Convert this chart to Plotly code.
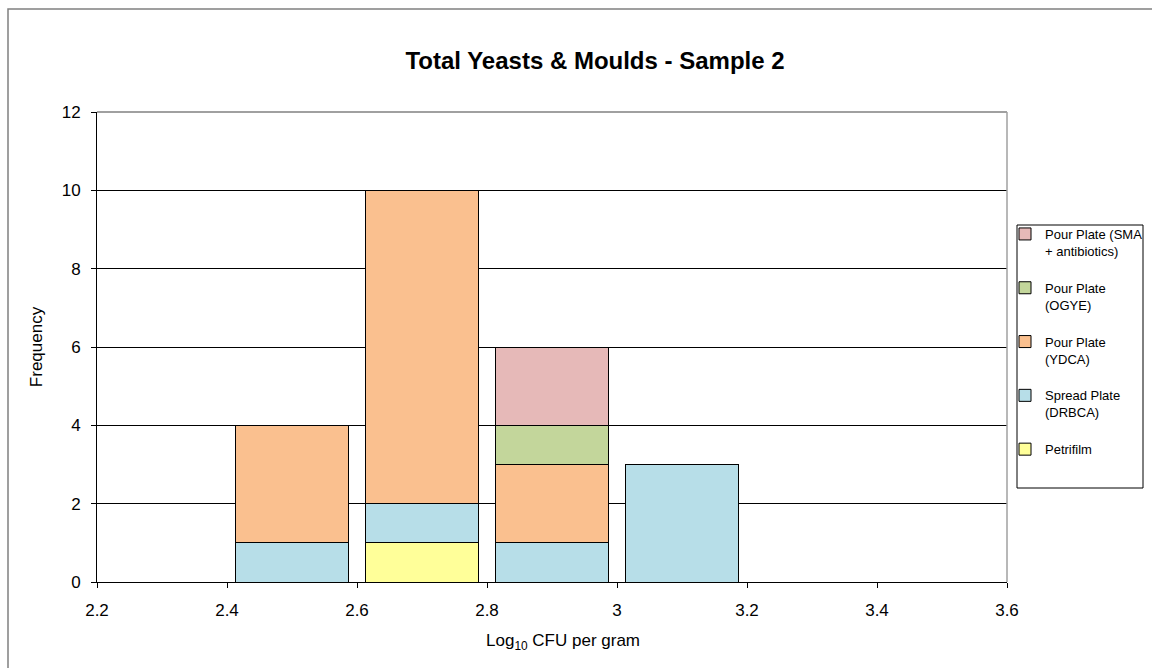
import plotly.graph_objects as go

# Data
bin_centers = [2.5, 2.7, 2.9, 3.1]
petrifilm = [None, 1, None, None]
spread_drbca = [1, 1, 1, 3]
pour_ydca = [3, 8, 2, None]
pour_ogye = [None, None, 1, None]
pour_sma = [None, None, 2, None]

x_tickvals = [2.2, 2.4, 2.6, 2.8, 3.0, 3.2, 3.4, 3.6]
x_ticktext = ["2.2", "2.4", "2.6", "2.8", "3", "3.2", "3.4", "3.6"]
y_tickvals = [0, 2, 4, 6, 8, 10, 12]

series = [
    ("Petrifilm", petrifilm, "#FFFF99"),
    ("Spread Plate<br>(DRBCA)", spread_drbca, "#B7DEE8"),
    ("Pour Plate<br>(YDCA)", pour_ydca, "#FAC08F"),
    ("Pour Plate<br>(OGYE)", pour_ogye, "#C3D69B"),
    ("Pour Plate (SMA<br>+ antibiotics)", pour_sma, "#E6B9B8"),
]

FONT = "Liberation Sans, Arial, sans-serif"

fig = go.Figure()
n = len(series)
for i, (name, vals, col) in enumerate(series):
    fig.add_trace(go.Bar(
        x=bin_centers, y=vals, name=name, width=0.175,
        marker=dict(color=col, line=dict(color="black", width=1)),
        legendgroup=f"g{i}", legendrank=n - i,
    ))

W, H = 1152, 668
L, R, T, B = 97, 145, 112, 86
pw, ph = W - L - R, H - T - B

def px(xp):
    return (xp - L) / pw

def py(yp):
    return (H - B - yp) / ph

fig.update_layout(
    width=W, height=H,
    margin=dict(l=L, r=R, t=T, b=B, autoexpand=False),
    barmode="stack",
    paper_bgcolor="white", plot_bgcolor="white",
    font=dict(family=FONT, size=17, color="black"),
    title=dict(text="<b>Total Yeasts & Moulds - Sample 2</b>",
               x=px(567), xanchor="center", y=1 - 61 / H, yanchor="middle",
               font=dict(size=24, family=FONT)),
    xaxis=dict(range=[2.2, 3.6], tickvals=x_tickvals, ticktext=x_ticktext,
               showgrid=False, zeroline=False, showline=True, linecolor="black",
               linewidth=1, ticks="outside", ticklen=5, tickcolor="black",
               tickfont=dict(size=17), ticklabelstandoff=8),
    yaxis=dict(range=[0, 12], tickvals=y_tickvals, showgrid=True, gridcolor="black",
               gridwidth=1, zeroline=False, showline=True, linecolor="black",
               linewidth=1, ticks="outside", ticklen=5, tickcolor="black",
               tickfont=dict(size=17), ticklabelstandoff=7,
               title=dict(text="Frequency", font=dict(size=17), standoff=14)),
    legend=dict(x=px(1005), xanchor="left", y=py(219), yanchor="top",
                traceorder="grouped", tracegroupgap=17, valign="top",
                font=dict(size=13, family=FONT), bgcolor="rgba(0,0,0,0)",
                borderwidth=0, itemwidth=30),
    annotations=[
        dict(text="Log<sub>10</sub> CFU per gram", xref="paper", yref="paper",
             x=px(563), y=py(642), xanchor="center", yanchor="middle",
             showarrow=False, font=dict(size=17, family=FONT)),
    ],
    shapes=[
        # outer chart border
        dict(type="rect", xref="paper", yref="paper",
             x0=px(8), x1=px(1170), y0=py(690), y1=py(9),
             line=dict(color="#808080", width=1.5), layer="below"),
        # plot area border (top & right)
        dict(type="line", xref="paper", yref="paper", x0=0, x1=1, y0=1, y1=1,
             line=dict(color="#808080", width=1.5)),
        dict(type="line", xref="paper", yref="paper", x0=1, x1=1, y0=0, y1=1,
             line=dict(color="#A0A0A0", width=1.5)),
        # legend box
        dict(type="rect", xref="paper", yref="paper",
             x0=px(1017), x1=px(1143), y0=py(488), y1=py(225),
             line=dict(color="black", width=1)),
    ],
)

fig.write_html("out.html")
